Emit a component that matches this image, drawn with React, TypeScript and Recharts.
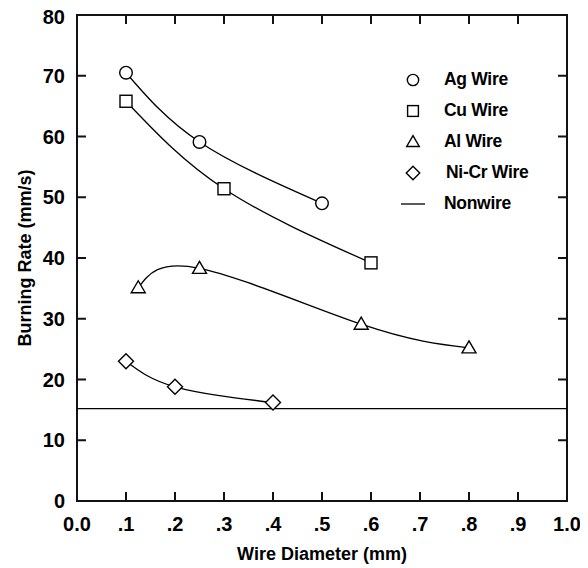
import { LineChart, Line, XAxis, YAxis, Legend, ReferenceArea } from "recharts";

// values
const agX = [0.1, 0.25, 0.5];
const agY = [70.5, 59.1, 49.0];
const cuX = [0.1, 0.3, 0.6];
const cuY = [65.8, 51.4, 39.2];
const alX = [0.125, 0.25, 0.58, 0.8];
const alY = [35.1, 38.3, 29.1, 25.2];
const nicrX = [0.1, 0.2, 0.4];
const nicrY = [23.0, 18.8, 16.2];
const nonwireX = [0, 1];
const nonwireY = [15.2, 15.2];

const seriesNames = ["Ag Wire", "Cu Wire", "Al Wire", "Ni-Cr Wire", "Nonwire"];
const seriesShapes = ["circle", "square", "triangle", "diamond", "line"];

const xTicks = [0, 0.1, 0.2, 0.3, 0.4, 0.5, 0.6, 0.7, 0.8, 0.9, 1];
const yTicks = [0, 10, 20, 30, 40, 50, 60, 70, 80];

const rows = (xs: number[], ys: number[]) => xs.map((x, i) => ({ x, y: ys[i] }));

// layout (the chart sits inside the body's 8px margin)
const W = 580;
const H = 560;
const MARGIN = { top: 7, right: 21, bottom: 7, left: 9 };
const Y_AXIS_W = 60;
const X_AXIS_H = 60;
const PLOT_LEFT = MARGIN.left + Y_AXIS_W;
const PLOT_RIGHT = W - MARGIN.right;
const PLOT_TOP = MARGIN.top;
const PLOT_BOTTOM = H - MARGIN.bottom - X_AXIS_H;
const TICK_LEN = 9;
const INK = "#111118";

const FONT = "'Liberation Sans', Arial, Helvetica, sans-serif";
const tickStyle = { fontFamily: FONT, fontSize: 20, fontWeight: "bold", fill: "#000" };
const titleStyle = { fontFamily: FONT, fontSize: 18, fontWeight: "bold", fill: "#000" };

const fmtX = (v: number) => (v === 0 ? "0.0" : v === 1 ? "1.0" : v.toFixed(1).replace(/^0/, ""));

// label plus inward tick marks on both opposite sides of the frame
function XTick({ x, y, payload, index }: any) {
  const v = payload.value;
  const inner = v > 0 && v < 1;
  return (
    <g key={index}>
      {inner && (
        <path
          d={`M${x},${PLOT_BOTTOM}V${PLOT_BOTTOM - TICK_LEN}M${x},${PLOT_TOP}V${PLOT_TOP + TICK_LEN}`}
          stroke={INK}
          strokeWidth={2}
          fill="none"
        />
      )}
      <text x={x} y={y} dy="0.68em" textAnchor="middle" style={tickStyle}>
        {fmtX(v)}
      </text>
    </g>
  );
}

function YTick({ x, y, payload, index }: any) {
  const v = payload.value;
  const inner = v > 0 && v < 80;
  return (
    <g key={index}>
      {inner && (
        <path
          d={`M${PLOT_LEFT},${y}H${PLOT_LEFT + TICK_LEN}M${PLOT_RIGHT},${y}H${PLOT_RIGHT - TICK_LEN}`}
          stroke={INK}
          strokeWidth={2}
          fill="none"
        />
      )}
      <text x={x} y={y} textAnchor="end" dominantBaseline="central" style={tickStyle}>
        {v}
      </text>
    </g>
  );
}

function Marker({ shape, cx, cy, s = 1 }: { shape: string; cx: number; cy: number; s?: number }) {
  const common = { fill: "#fff", stroke: "#000", strokeWidth: 1.4 };
  if (shape === "circle") return <circle cx={cx} cy={cy} r={6.3 * s} {...common} />;
  if (shape === "square")
    return <rect x={cx - 6 * s} y={cy - 6 * s} width={12 * s} height={12 * s} {...common} />;
  if (shape === "triangle")
    return (
      <polygon
        points={`${cx},${cy - 7 * s} ${cx - 7 * s},${cy + 5 * s} ${cx + 7 * s},${cy + 5 * s}`}
        {...common}
      />
    );
  if (shape === "diamond")
    return (
      <polygon
        points={`${cx},${cy - 7.5 * s} ${cx + 7.5 * s},${cy} ${cx},${cy + 7.5 * s} ${cx - 7.5 * s},${cy}`}
        {...common}
      />
    );
  return <path d={`M${cx - 12},${cy}H${cx + 12}`} stroke="#000" strokeWidth={1.3} />;
}

const dotOf = (shape: string) => (p: any) => (
  <Marker key={`${shape}-${p.index}`} shape={shape} cx={p.cx} cy={p.cy} />
);

function LegendBox() {
  return (
    <div style={{ fontFamily: FONT, fontSize: 17.5, fontWeight: "bold", color: "#000" }}>
      {seriesNames.map((name, i) => (
        <div key={name} style={{ display: "flex", alignItems: "center", height: 31 }}>
          <svg width={26} height={20} style={{ display: "block" }}>
            <Marker shape={seriesShapes[i]} cx={13} cy={10} s={0.9} />
          </svg>
          <span style={{ marginLeft: i === 3 ? 20 : 18, letterSpacing: -0.3, whiteSpace: "nowrap" }}>
            {name}
          </span>
        </div>
      ))}
    </div>
  );
}

function YTitle(props: any) {
  const vb = props.viewBox;
  const x = vb.x + 8;
  const y = vb.y + vb.height / 2;
  return (
    <text
      x={x}
      y={y}
      transform={`rotate(-90, ${x}, ${y})`}
      textAnchor="middle"
      dominantBaseline="central"
      style={titleStyle}
    >
      Burning Rate (mm/s)
    </text>
  );
}

const lineProps = {
  dataKey: "y",
  stroke: "#000",
  strokeWidth: 1.3,
  activeDot: false,
  isAnimationActive: false,
} as const;

export default function App() {
  return (
    <div style={{ width: W, height: H, background: "#fff" }}>
      <LineChart width={W} height={H} margin={MARGIN} style={{ overflow: "visible" }}>
        <XAxis
          type="number"
          dataKey="x"
          domain={[0, 1]}
          ticks={xTicks}
          axisLine={{ stroke: INK, strokeWidth: 2 }}
          tickLine={false}
          tickSize={8}
          tickMargin={8}
          height={X_AXIS_H}
          tick={XTick}
          allowDataOverflow
          label={{
            value: "Wire Diameter (mm)",
            position: "insideBottom",
            offset: 1,
            style: titleStyle,
          }}
        />
        <YAxis
          type="number"
          dataKey="y"
          domain={[0, 80]}
          ticks={yTicks}
          axisLine={{ stroke: INK, strokeWidth: 2 }}
          tickLine={false}
          tickSize={6}
          tickMargin={6}
          width={Y_AXIS_W}
          tick={YTick}
          allowDataOverflow
          label={{ content: YTitle }}
        />
        <ReferenceArea x1={0} x2={1} y1={0} y2={80} fill="none" fillOpacity={0} stroke={INK} strokeWidth={2} />

        <Line name={seriesNames[4]} data={rows(nonwireX, nonwireY)} type="linear" dot={false} {...lineProps} />
        <Line name={seriesNames[0]} data={rows(agX, agY)} type="natural" dot={dotOf("circle")} {...lineProps} />
        <Line name={seriesNames[1]} data={rows(cuX, cuY)} type="natural" dot={dotOf("square")} {...lineProps} />
        <Line name={seriesNames[2]} data={rows(alX, alY)} type="natural" dot={dotOf("triangle")} {...lineProps} />
        <Line name={seriesNames[3]} data={rows(nicrX, nicrY)} type="natural" dot={dotOf("diamond")} {...lineProps} />

        <Legend
          layout="vertical"
          align="center"
          verticalAlign="middle"
          content={() => <LegendBox />}
          wrapperStyle={{ left: 392, top: 56, width: "auto", height: "auto" }}
        />
      </LineChart>
    </div>
  );
}
